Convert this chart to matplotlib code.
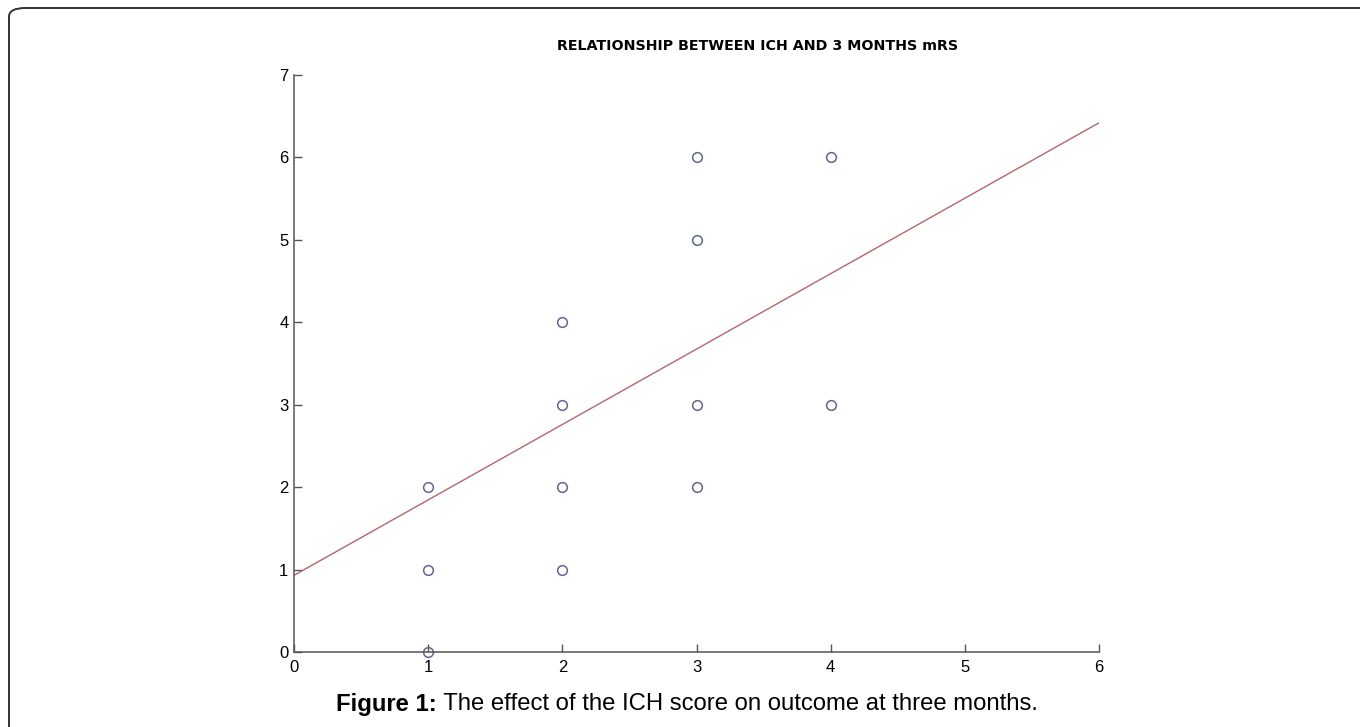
import matplotlib
matplotlib.use("Agg")
import matplotlib.pyplot as plt
from matplotlib.patches import FancyBboxPatch

plt.rcParams['font.family'] = ['Liberation Sans', 'DejaVu Sans']

# ICH score vs 3-month mRS
ich_score = [1, 1, 1, 2, 2, 2, 2, 3, 3, 3, 3, 4, 4]
mrs_3m = [0, 1, 2, 1, 2, 3, 4, 2, 3, 5, 6, 3, 6]

# fitted line, end points
fit_x = [0, 6]
fit_y = [0.93, 6.42]

fig = plt.figure(figsize=(13.6, 7.27), dpi=100)

# rounded frame around the figure (open at right / bottom)
frame = FancyBboxPatch((9 / 1360, -0.2), 1.2, 0.2 + 1 - 8 / 727,
                       boxstyle="round,pad=0,rounding_size=0.012",
                       transform=fig.transFigure, fill=False,
                       edgecolor='#333333', linewidth=1.4, clip_on=False)
fig.patches.append(frame)

ax = fig.add_axes([294 / 1360, 75 / 727, 805 / 1360, 577 / 727])

ax.plot(fit_x, fit_y, color='#b2676a', linewidth=1.0)
ax.plot(ich_score, mrs_3m, linestyle='none', marker='o', markersize=7,
        markerfacecolor='none', markeredgecolor='#62668c', markeredgewidth=1.1,
        clip_on=False)

ax.set_xlim(0, 6)
ax.set_ylim(0, 7)
ax.set_xticks(range(0, 7))
ax.set_yticks(range(0, 8))
for s in ['top', 'right']:
    ax.spines[s].set_visible(False)
for s in ['left', 'bottom']:
    ax.spines[s].set_color('#555555')
    ax.spines[s].set_linewidth(1.1)
ax.tick_params(direction='in', length=6, width=1, color='#555555',
               labelsize=12)
ax.tick_params(axis='x', pad=5.5)
ax.tick_params(axis='y', pad=4)

fig.text(758 / 1360, 1 - 46 / 727, "RELATIONSHIP BETWEEN ICH AND 3 MONTHS mRS",
         fontsize=10.3, fontweight='bold', family='DejaVu Sans',
         ha='center', va='center')

t1 = fig.text(336 / 1360, 1 - 704 / 727, "Figure 1:", fontsize=17.2,
              fontweight='bold', va='center', ha='left')
ax.annotate(" The effect of the ICH score on outcome at three months.",
            xy=(1, 0), xycoords=t1, va='bottom', ha='left', fontsize=17.2,
            annotation_clip=False)

fig.savefig("out.png", dpi=100)
